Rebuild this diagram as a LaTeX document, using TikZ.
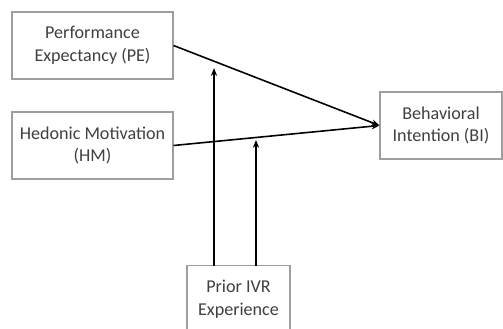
\documentclass[tikz,border=0pt]{standalone}
\usepackage{fontspec}
\setmainfont{Carlito}
\usetikzlibrary{arrows.meta}
\tikzset{
	box/.style={draw=black!38, line width=0.6pt, fill=white, text=black!75, align=center, minimum height=1.34cm, inner sep=2pt, font=\fontsize{10.3}{13}\selectfont},
	link/.style={line width=0.9pt, -{Stealth[length=4.5pt, width=3.5pt]}}
}
\begin{document}
\begin{tikzpicture}
		\useasboundingbox (0, 0) rectangle (10.06, 6.58);
		\node [box, minimum width=3.22cm] (pe) at (1.85, 5.67) {Performance\\Expectancy (PE)};
		\node [box, minimum width=3.22cm] (hm) at (1.85, 3.67) {Hedonic Motivation\\(HM)};
		\node [box, minimum width=2.44cm] (bi) at (8.82, 4.07) {Behavioral\\Intention (BI)};
		\node [box, minimum width=2.06cm] (prior) at (4.77, 0.6) {Prior IVR\\Experience};
		\coordinate (s1) at (4.28, 1.26);
		\coordinate (s2) at (5.12, 1.26);
		\coordinate (m1) at (4.28, 5.22);
		\coordinate (m2) at (5.12, 3.78);
		\draw [link] (pe.east) to (bi.west);
		\draw [link] (hm.east) to (bi.west);
		\draw [link] (s1) to (m1);
		\draw [link] (s2) to (m2);
\end{tikzpicture}
\end{document}
